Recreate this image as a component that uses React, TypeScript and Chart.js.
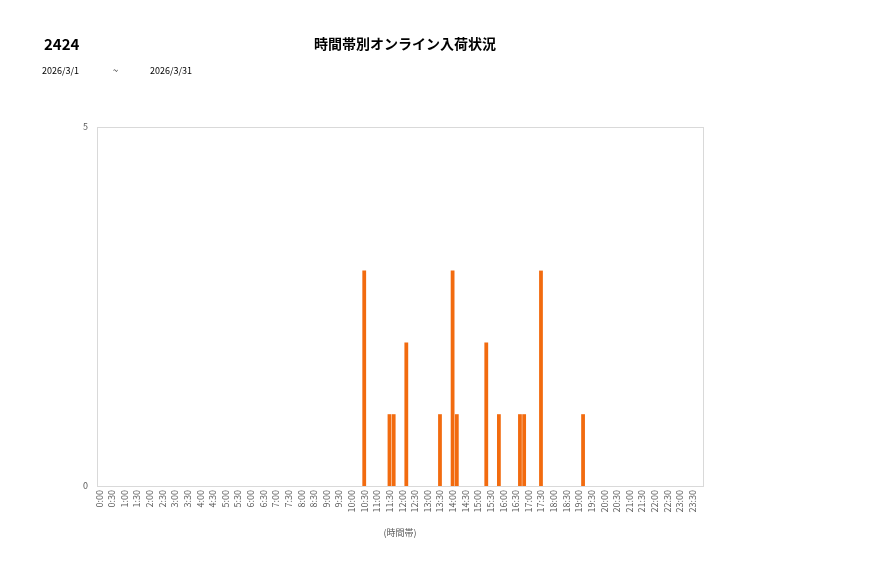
import React, { useEffect, useRef } from "react";
import { Chart, registerables } from "chart.js";

Chart.register(...registerables);

// 10-minute slots, 0:00 .. 23:50
const slotLabels: string[] = [];
for (let h = 0; h < 24; h++) {
  for (let m = 0; m < 60; m += 10) {
    slotLabels.push(`${h}:${m === 0 ? "00" : m}`);
  }
}

// slots that had arrivals, and how many
const arrivalSlots = ["10:30", "11:30", "11:40", "12:10", "13:30", "14:00", "14:10", "15:20", "15:50", "16:40", "16:50", "17:30", "19:10"];
const arrivalCounts = [3, 1, 1, 2, 1, 3, 1, 2, 1, 1, 1, 3, 1];

const yTicks = [0, 5];

const storeCode = "2424";
const chartTitle = "時間帯別オンライン入荷状況";
const dateFrom = "2026/3/1";
const dateTo = "2026/3/31";

const FONT = "'Noto Sans CJK JP', 'Noto Sans', sans-serif";

const frameBox = {
  id: "frameBox",
  afterDraw(chart: any) {
    const { ctx, chartArea } = chart;
    ctx.save();
    ctx.strokeStyle = "#D9D9D9";
    ctx.lineWidth = 1;
    ctx.strokeRect(
      Math.round(chartArea.left) + 0.5,
      Math.round(chartArea.top) + 0.5,
      Math.round(chartArea.right - chartArea.left),
      Math.round(chartArea.bottom - chartArea.top)
    );
    ctx.restore();
  },
};

const ArrivalChart: React.FC = () => {
  const canvasRef = useRef<HTMLCanvasElement>(null);
  const chartRef = useRef<Chart | null>(null);

  useEffect(() => {
    if (!canvasRef.current) return;
    if (chartRef.current) chartRef.current.destroy();

    const values = slotLabels.map((s) => {
      const i = arrivalSlots.indexOf(s);
      return i >= 0 ? arrivalCounts[i] : 0;
    });

    chartRef.current = new Chart(canvasRef.current, {
      type: "bar",
      data: {
        labels: slotLabels,
        datasets: [
          {
            data: values,
            backgroundColor: "#F26B0F",
            borderWidth: 0,
            barPercentage: 1,
            categoryPercentage: 0.9,
          },
        ],
      },
      options: {
        animation: false,
        responsive: false,
        maintainAspectRatio: false,
        layout: { padding: { top: 127, right: 174, bottom: 36, left: 0 } },
        plugins: {
          legend: { display: false },
          tooltip: { enabled: false },
        },
        scales: {
          x: {
            grid: { display: false, drawTicks: false },
            border: { display: false },
            ticks: {
              autoSkip: false,
              maxRotation: 90,
              minRotation: 90,
              padding: 4,
              color: "#595959",
              font: { family: FONT, size: 9 },
              callback: (_v: any, i: number) => (i % 3 === 0 ? slotLabels[i] : ""),
            },
            title: {
              display: true,
              text: "(時間帯)",
              color: "#595959",
              font: { family: FONT, size: 9 },
              padding: { top: 4, bottom: 4 },
            },
            afterFit: (scale: any) => {
              scale.height = 56;
            },
          },
          y: {
            min: 0,
            max: 5,
            grid: { display: false, drawTicks: false },
            border: { display: false },
            afterBuildTicks: (scale: any) => {
              scale.ticks = yTicks.map((v) => ({ value: v }));
            },
            ticks: {
              padding: 9,
              color: "#595959",
              font: { family: FONT, size: 9 },
            },
            afterFit: (scale: any) => {
              scale.width = 97;
            },
          },
        },
      },
      plugins: [frameBox],
    });

    return () => {
      chartRef.current?.destroy();
      chartRef.current = null;
    };
  }, []);

  return <canvas ref={canvasRef} width={877} height={578} style={{ position: "absolute", left: 0, top: 0 }} />;
};

export default function App() {
  return (
    <div style={{ position: "fixed", left: 0, top: 0, width: 877, height: 578, background: "#fff", fontFamily: FONT }}>
      <ArrivalChart />
      <div style={{ position: "absolute", left: 44, top: 33, fontSize: 15, fontWeight: 700, color: "#000" }}>{storeCode}</div>
      <div style={{ position: "absolute", left: 0, width: 810, top: 33, textAlign: "center", fontSize: 14, fontWeight: 700, color: "#000" }}>
        {chartTitle}
      </div>
      <div style={{ position: "absolute", left: 42, top: 64, fontSize: 9, color: "#000" }}>{dateFrom}</div>
      <div style={{ position: "absolute", left: 113, top: 64, fontSize: 9, color: "#000" }}>~</div>
      <div style={{ position: "absolute", left: 150, top: 64, fontSize: 9, color: "#000" }}>{dateTo}</div>
    </div>
  );
}
